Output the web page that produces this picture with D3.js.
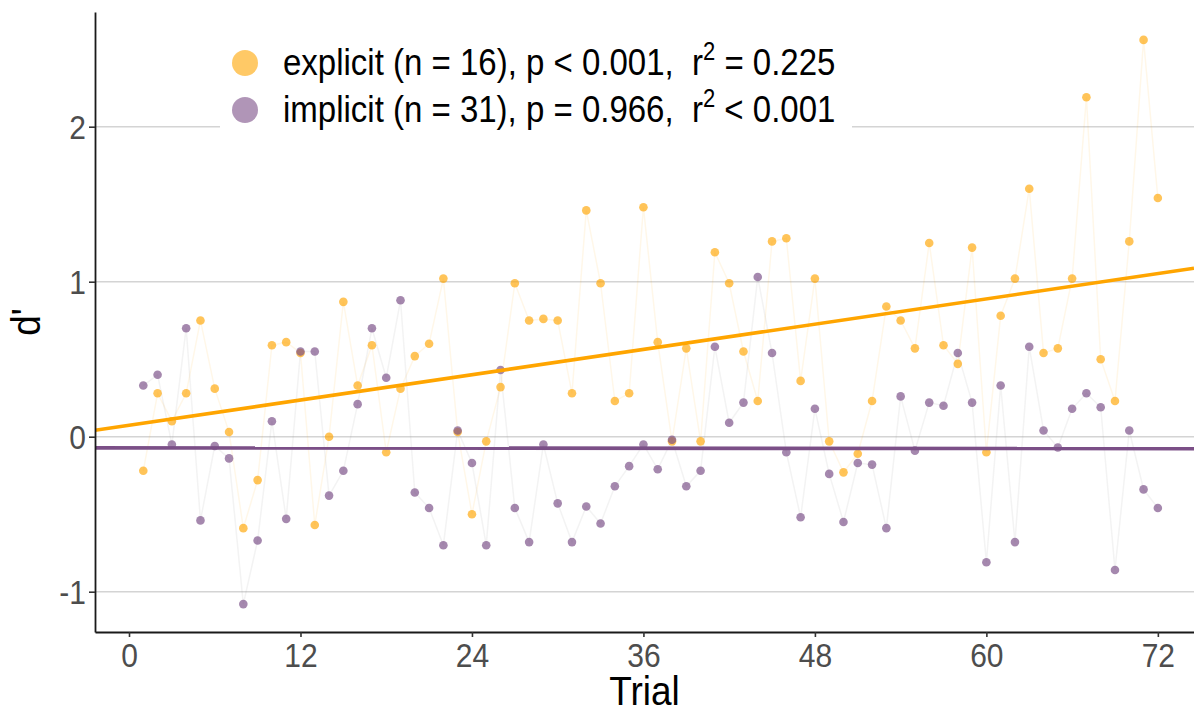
<!DOCTYPE html>
<html>
<head>
<meta charset="utf-8">
<script src="https://cdn.jsdelivr.net/npm/d3@7"></script>
<style>
  body { margin: 0; background: #fff; }
  text { font-family: "Liberation Sans", Arial, sans-serif; }
</style>
</head>
<body>
<div class="visualisation"></div>
<script>
var trials = d3.range(1, 73);

var explicitVals = [-0.22, 0.28, 0.10, 0.28, 0.75, 0.31, 0.03, -0.59, -0.28, 0.59,
	0.61, 0.54, -0.57, 0.00, 0.87, 0.33, 0.59, -0.10, 0.31, 0.52,
	0.60, 1.02, 0.03, -0.50, -0.03, 0.32, 0.99, 0.75, 0.76, 0.75,
	0.28, 1.46, 0.99, 0.23, 0.28, 1.48, 0.61, -0.03, 0.57, -0.03,
	1.19, 0.99, 0.55, 0.23, 1.26, 1.28, 0.36, 1.02, -0.03, -0.23,
	-0.11, 0.23, 0.84, 0.75, 0.57, 1.25, 0.59, 0.47, 1.22, -0.10,
	0.78, 1.02, 1.60, 0.54, 0.57, 1.02, 2.19, 0.50, 0.23, 1.26,
	2.56, 1.54];

var implicitVals = [0.33, 0.40, -0.05, 0.70, -0.54, -0.06, -0.14, -1.08, -0.67, 0.10,
	-0.53, 0.55, 0.55, -0.38, -0.22, 0.21, 0.70, 0.38, 0.88, -0.36,
	-0.46, -0.70, 0.04, -0.17, -0.70, 0.43, -0.46, -0.68, -0.05, -0.43,
	-0.68, -0.45, -0.56, -0.32, -0.19, -0.05, -0.21, -0.02, -0.32, -0.22,
	0.58, 0.09, 0.22, 1.03, 0.54, -0.10, -0.52, 0.18, -0.24, -0.55,
	-0.17, -0.18, -0.59, 0.26, -0.09, 0.22, 0.20, 0.54, 0.22, -0.81,
	0.33, -0.68, 0.58, 0.04, -0.07, 0.18, 0.28, 0.19, -0.86, 0.04,
	-0.34, -0.46];

var xTicks = [0, 12, 24, 36, 48, 60, 72];
var yTicks = [-1, 0, 1, 2];

var seriesNames = ["explicit", "implicit"];
var legendLabels = [
	{pre: "explicit (n = 16), p < 0.001,  r", post: " = 0.225"},
	{pre: "implicit (n = 31), p = 0.966,  r", post: " < 0.001"}
];

var colors = {explicit: "#FFA500", implicit: "#7B4F87"};

var W = 1194, H = 709;
var margin = {top: 12, right: 0, bottom: 77, left: 95};
var width = W - margin.left - margin.right,
	height = H - margin.top - margin.bottom;

// text in the reference is a little taller than it is wide
var stretch = 1.1;

var svg = d3.select(".visualisation").append("svg")
	.attr("width", W)
	.attr("height", H)
  .append("g")
	.attr("transform", "translate(" + margin.left + "," + margin.top + ")");

var x = d3.scaleLinear().domain([-2.38, 74.53]).range([0, width]);
var y = d3.scaleLinear().domain([-1.26, 2.74]).range([height, 0]);

svg.append("defs").append("clipPath").attr("id", "clip")
	.append("rect").attr("width", width).attr("height", height);

// grid
svg.append("g").selectAll("line").data(yTicks).enter().append("line")
	.attr("x1", 0).attr("x2", width)
	.attr("y1", d => y(d)).attr("y2", d => y(d))
	.attr("stroke", "#d4d4d4").attr("stroke-width", 1.6);

var series = seriesNames.map(function(name){
	var vals = name == "explicit" ? explicitVals : implicitVals;
	return {name: name, values: trials.map((t, i) => ({t: t, v: vals[i]}))};
});

// least squares fit
function fit(values){
	var mx = d3.mean(values, d => d.t), my = d3.mean(values, d => d.v);
	var sxy = d3.sum(values, d => (d.t - mx) * (d.v - my));
	var sxx = d3.sum(values, d => (d.t - mx) * (d.t - mx));
	var b = sxy / sxx;
	return {a: my - b * mx, b: b};
}

var plot = svg.append("g").attr("clip-path", "url(#clip)");

var line = d3.line().x(d => x(d.t)).y(d => y(d.v));

series.forEach(function(s){
	plot.append("path").datum(s.values)
		.attr("d", line)
		.attr("fill", "none")
		.attr("stroke", s.name == "explicit" ? "#FFA500" : "#999")
		.attr("stroke-opacity", s.name == "explicit" ? 0.09 : 0.12)
		.attr("stroke-width", 1.5);
});

series.forEach(function(s){
	plot.append("g").selectAll("circle").data(s.values).enter().append("circle")
		.attr("cx", d => x(d.t)).attr("cy", d => y(d.v))
		.attr("r", 4.3)
		.attr("fill", colors[s.name])
		.attr("fill-opacity", s.name == "explicit" ? 0.65 : 0.68);
});

series.forEach(function(s){
	var f = fit(s.values);
	var xd = x.domain();
	plot.append("line")
		.attr("x1", x(xd[0])).attr("x2", x(xd[1]))
		.attr("y1", y(f.a + f.b * xd[0])).attr("y2", y(f.a + f.b * xd[1]))
		.attr("stroke", colors[s.name])
		.attr("stroke-width", 3.6);
});

// axes
var xAxis = svg.append("g")
	.attr("transform", "translate(0," + height + ")")
	.call(d3.axisBottom(x).tickValues(xTicks).tickSize(5).tickSizeOuter(0).tickFormat(d => String(d)));
var yAxis = svg.append("g")
	.call(d3.axisLeft(y).tickValues(yTicks).tickSize(6).tickSizeOuter(0).tickFormat(d => String(d)));

[xAxis, yAxis].forEach(function(a){
	a.select(".domain").attr("stroke", "#1a1a1a").attr("stroke-width", 1.8);
	a.selectAll(".tick line").attr("stroke", "#333").attr("stroke-width", 1.6);
	a.selectAll(".tick text").attr("fill", "#4d4d4d")
		.style("font-size", "30px").style("font-family", "Liberation Sans, Arial, sans-serif");
});

xAxis.selectAll(".tick text")
	.attr("dy", null).attr("y", 35 / stretch)
	.attr("transform", "scale(1," + stretch + ")");
yAxis.selectAll(".tick text")
	.attr("dy", null).attr("x", -9).attr("y", 11.5 / stretch)
	.attr("transform", "scale(1," + stretch + ")");

svg.append("text")
	.attr("transform", "translate(" + (width / 2) + "," + (705 - margin.top) + ") scale(1," + stretch + ")")
	.attr("text-anchor", "middle")
	.style("font-size", "37px").attr("fill", "#000")
	.text("Trial");

svg.append("text")
	.attr("transform", "translate(" + (40 - margin.left) + "," + (height / 2) + ") rotate(-90) scale(1," + stretch + ")")
	.attr("text-anchor", "middle")
	.style("font-size", "37px").attr("fill", "#000")
	.text("d'");

// legend
var legend = svg.append("g").attr("transform", "translate(" + (220 - margin.left) + "," + (30 - margin.top) + ")");
legend.append("rect").attr("width", 632).attr("height", 104).attr("fill", "#fff");

var rows = legend.selectAll(".row").data(seriesNames).enter().append("g")
	.attr("transform", (d, i) => "translate(0," + (33 + i * 47) + ")");
rows.append("circle").attr("cx", 25).attr("cy", 0).attr("r", 13)
	.attr("fill", d => colors[d]).attr("fill-opacity", 0.6);
var lt = rows.append("text")
	.attr("transform", "translate(63,12) scale(1,1.13)")
	.style("font-size", "33px").style("white-space", "pre").attr("fill", "#000");
lt.append("tspan").text((d, i) => legendLabels[i].pre);
lt.append("tspan").attr("dy", -13).style("font-size", "22px").text("2");
lt.append("tspan").attr("dy", 13).text((d, i) => legendLabels[i].post);
</script>
</body>
</html>
